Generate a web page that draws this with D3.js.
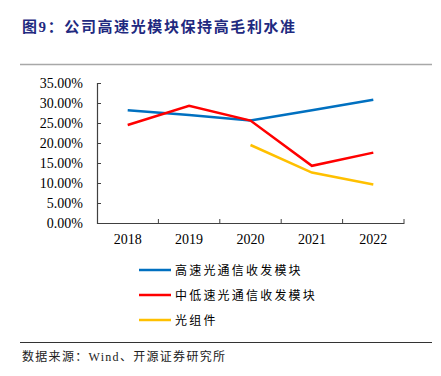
<!DOCTYPE html>
<html>
<head>
<meta charset="utf-8">
<script src="https://cdn.jsdelivr.net/npm/d3@7"></script>
<style>
  body { margin: 0; background: #fff; }
  svg { display: block; }
</style>
</head>
<body>
<div id="chart"></div>
<script>
// chart values
const years = ['2018', '2019', '2020', '2021', '2022'];
const highSpeed = [28.2, 27.0, 25.6, 28.2, 30.8];
const lowSpeed = [24.5, 29.3, 25.6, 14.3, 17.6];
const opticalParts = [null, null, 19.5, 12.6, 9.6];
const yTicks = [0, 5, 10, 15, 20, 25, 30, 35];
const seriesNames = ['高速光通信收发模块', '中低速光通信收发模块', '光组件'];
const seriesColors = ['#0070c0', '#ff0000', '#ffc000'];

const W = 441, H = 376;
const mixFont = '"Liberation Serif", "Noto Sans CJK SC", serif';

const svg = d3.select('#chart').append('svg')
    .attr('width', W)
    .attr('height', H);

// title
svg.append('text')
    .attr('x', 22)
    .attr('y', 32)
    .attr('fill', '#1f2a80')
    .style('font-family', mixFont)
    .style('font-weight', 'bold')
    .style('font-size', '15px')
    .style('letter-spacing', '1.6px')
    .text('图9：公司高速光模块保持高毛利水准');

// rule under title
svg.append('line')
    .attr('x1', 20).attr('x2', 432)
    .attr('y1', 64.5).attr('y2', 64.5)
    .attr('stroke', '#a8a8a8')
    .attr('stroke-width', 1.5);

const x = d3.scaleBand()
    .domain(years)
    .range([97, 404]);

const y = d3.scaleLinear()
    .domain([0, 35])
    .range([223, 83]);

// y axis
const yAxis = svg.append('g')
    .attr('transform', 'translate(97,0)')
    .call(d3.axisLeft(y)
        .tickValues(yTicks)
        .tickSize(-4)
        .tickPadding(14)
        .tickFormat(d => d3.format('.2f')(d) + '%'));
yAxis.select('.domain').attr('stroke', '#404040').attr('stroke-width', 1.2);
yAxis.selectAll('.tick line').attr('stroke', '#404040');
yAxis.selectAll('text')
    .attr('fill', '#000')
    .style('font-family', '"Liberation Serif", "Times New Roman", serif')
    .style('font-size', '14px');

// x axis with ticks between categories
const xAxis = svg.append('g')
    .attr('transform', 'translate(0,223)')
    .call(d3.axisBottom(x).tickSize(0).tickPadding(11));
xAxis.select('.domain').attr('stroke', '#404040').attr('stroke-width', 1.2);
xAxis.selectAll('text')
    .attr('fill', '#000')
    .style('font-family', '"Liberation Serif", "Times New Roman", serif')
    .style('font-size', '14px');
xAxis.selectAll('.sep')
    .data(years.slice(1).concat(['end']))
    .enter()
    .append('line')
    .attr('class', 'sep')
    .attr('x1', (d, i) => x(years[0]) + x.bandwidth() * (i + 1))
    .attr('x2', (d, i) => x(years[0]) + x.bandwidth() * (i + 1))
    .attr('y1', 0).attr('y2', -4)
    .attr('stroke', '#404040');

// lines
const line = d3.line()
    .defined(d => d.v != null)
    .x(d => x(d.year) + x.bandwidth() / 2)
    .y(d => y(d.v));

[highSpeed, lowSpeed, opticalParts].forEach((vals, i) => {
    const pts = years.map((yr, j) => ({ year: yr, v: vals[j] }));
    svg.append('path')
        .datum(pts)
        .attr('fill', 'none')
        .attr('stroke', seriesColors[i])
        .attr('stroke-width', 2.5)
        .attr('d', line);
});

// legend
const legend = svg.append('g');
seriesNames.forEach((name, i) => {
    const ly = 270 + i * 25;
    legend.append('line')
        .attr('x1', 139).attr('x2', 171)
        .attr('y1', ly).attr('y2', ly)
        .attr('stroke', seriesColors[i])
        .attr('stroke-width', 2.5);
    legend.append('text')
        .attr('x', 175)
        .attr('y', ly + 4.5)
        .attr('fill', '#000')
        .style('font-family', '"Noto Sans CJK SC", sans-serif')
        .style('font-size', '12px')
        .style('letter-spacing', '2.2px')
        .text(name);
});

// bottom rule and source note
svg.append('line')
    .attr('x1', 20).attr('x2', 432)
    .attr('y1', 342.5).attr('y2', 342.5)
    .attr('stroke', '#333')
    .attr('stroke-width', 1);

svg.append('text')
    .attr('x', 22)
    .attr('y', 361)
    .attr('fill', '#222')
    .style('font-family', mixFont)
    .style('font-size', '12px')
    .style('letter-spacing', '1.3px')
    .text('数据来源：Wind、开源证券研究所');
</script>
</body>
</html>
